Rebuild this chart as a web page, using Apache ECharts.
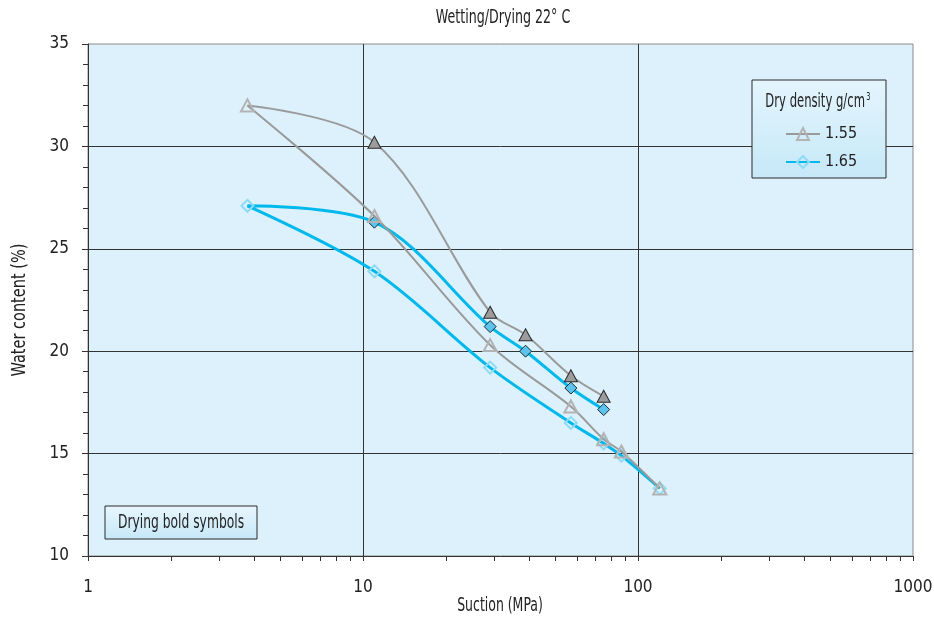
<!DOCTYPE html>
<html>
<head>
<meta charset="utf-8">
<script src="https://cdn.jsdelivr.net/npm/echarts@6/dist/echarts.min.js"></script>
<style>
  html, body { margin: 0; padding: 0; background: #ffffff; }
  #chart { width: 934px; height: 621px; }
</style>
</head>
<body>
<div id="chart"></div>
<script>
const FONT = "'DejaVu Sans Condensed', 'Liberation Sans', sans-serif";

const seriesNames = ['1.55', '1.65'];

// Dry density 1.55 g/cm3 — drying branch (bold symbols), high suction towards the loop turn
const drySuction155 = [75, 57, 39, 29, 11];
const dryWater155 = [17.8, 18.8, 20.8, 21.9, 30.2];
// Dry density 1.55 g/cm3 — wetting branch (open symbols), from the loop turn to high suction
const wetSuction155 = [3.8, 11, 29, 57, 75, 87, 120];
const wetWater155 = [32.0, 26.6, 20.3, 17.3, 15.7, 15.1, 13.3];

// Dry density 1.65 g/cm3
const drySuction165 = [75, 57, 39, 29, 11];
const dryWater165 = [17.15, 18.2, 20.0, 21.2, 26.3];
const wetSuction165 = [3.8, 11, 29, 57, 75, 87, 120];
const wetWater165 = [27.1, 23.9, 19.2, 16.5, 15.5, 14.9, 13.3];

// Intermediate decade ticks on the suction axis
const suctionMinorTicks = [2, 3, 4, 5, 6, 7, 8, 9, 20, 30, 40, 50, 60, 70, 80, 90, 200, 300, 400, 500, 600, 700, 800, 900];

const filledTriangle = { color: '#9c9c9c', borderColor: '#2a2a2a', borderWidth: 1 };
const filledDiamond = { color: '#5cc4ec', borderColor: '#1d2a30', borderWidth: 1 };

function loopData(drySx, dryW, wetSx, wetW, dryStyle) {
  const pts = [];
  drySx.forEach((s, i) => pts.push({ value: [s, dryW[i]], itemStyle: dryStyle }));
  wetSx.forEach((s, i) => pts.push({ value: [s, wetW[i]] }));
  return pts;
}

function gradient(top, bottom) {
  return new echarts.graphic.LinearGradient(0, 0, 0, 1, [
    { offset: 0, color: top },
    { offset: 1, color: bottom }
  ]);
}

// Narrow text label: a normal font squeezed horizontally
function narrowText(text, x, y, size, squeeze, extra) {
  return Object.assign({
    type: 'text',
    x: x, y: y,
    scaleX: squeeze,
    style: {
      text: text,
      fontFamily: FONT, fontSize: size, fill: '#222',
      align: 'center', verticalAlign: 'middle'
    },
    z: 40
  }, extra || {});
}

const chart = echarts.init(document.getElementById('chart'), null, { renderer: 'canvas' });

const option = {
  backgroundColor: '#ffffff',
  animation: false,
  textStyle: { fontFamily: FONT },
  grid: {
    left: 88, top: 44, width: 825, height: 512,
    outerBoundsMode: 'none',
    show: true,
    backgroundColor: '#dcf1fb',
    borderColor: '#8a8a8a',
    borderWidth: 1
  },
  xAxis: {
    type: 'log',
    logBase: 10,
    min: 1,
    max: 1000,
    axisLine: { show: true, onZero: false, lineStyle: { color: '#333', width: 1 } },
    axisTick: { show: true, length: 5, lineStyle: { color: '#333' } },
    axisLabel: {
      fontFamily: FONT, fontSize: 17, color: '#222', margin: 23,
      formatter: v => String(Math.round(v))
    },
    splitLine: { show: true, showMinLine: false, showMaxLine: false, lineStyle: { color: '#333', width: 1 } }
  },
  yAxis: {
    type: 'value',
    min: 10,
    max: 35,
    interval: 5,
    axisLine: { show: true, lineStyle: { color: '#333', width: 1 } },
    axisTick: { show: true, length: 6, lineStyle: { color: '#333' } },
    minorTick: { show: true, splitNumber: 5, length: 5, lineStyle: { color: '#333' } },
    axisLabel: { fontFamily: FONT, fontSize: 17, color: '#222', margin: 19 },
    splitLine: { show: true, showMinLine: false, showMaxLine: false, lineStyle: { color: '#333', width: 1 } }
  },
  legend: {
    data: seriesNames,
    orient: 'vertical',
    left: 780,
    top: 121,
    itemWidth: 34,
    itemHeight: 15,
    itemGap: 12,
    z: 30,
    textStyle: { fontFamily: FONT, fontSize: 16, color: '#222' }
  },
  series: [
    {
      type: 'custom',
      name: 'ticks',
      silent: true,
      clip: false,
      data: suctionMinorTicks.map(v => [v, 10]),
      renderItem: function (params, api) {
        const p = api.coord([api.value(0), api.value(1)]);
        const x = Math.round(p[0]) + 0.5;
        return {
          type: 'line',
          shape: { x1: x, y1: p[1], x2: x, y2: p[1] + 5 },
          style: { stroke: '#333', lineWidth: 1 }
        };
      },
      z: 1
    },
    {
      name: seriesNames[0],
      type: 'line',
      smooth: 0.33,
      symbol: 'triangle',
      symbolSize: [13, 12],
      showAllSymbol: true,
      lineStyle: { color: '#9a9a9a', width: 2 },
      itemStyle: { color: 'rgba(0,0,0,0)', borderColor: '#b3b3b3', borderWidth: 2 },
      data: loopData(drySuction155, dryWater155, wetSuction155, wetWater155, filledTriangle),
      z: 3
    },
    {
      name: seriesNames[1],
      type: 'line',
      smooth: 0.33,
      symbol: 'diamond',
      symbolSize: 12,
      showAllSymbol: true,
      lineStyle: { color: '#00b9ec', width: 3 },
      itemStyle: { color: 'rgba(0,0,0,0)', borderColor: '#8fdbf6', borderWidth: 2 },
      data: loopData(drySuction165, dryWater165, wetSuction165, wetWater165, filledDiamond),
      z: 2
    }
  ],
  graphic: [
    narrowText('Wetting/Drying 22° C', 503, 18, 19, 0.74),
    narrowText('Suction (MPa)', 500, 606, 19, 0.73),
    narrowText('Water content (%)', 20, 310, 19, 0.85, { rotation: Math.PI / 2 }),
    {
      type: 'rect',
      shape: { x: 752, y: 80, width: 134, height: 98 },
      style: { fill: gradient('#e4f5fd', '#c6e8f8'), stroke: '#2a2a2a', lineWidth: 1 },
      z: 5
    },
    narrowText('', 818, 102, 19, 0.68, {
      style: {
        text: '{a|Dry density g/cm}{s|3}',
        align: 'center', verticalAlign: 'middle',
        rich: {
          a: { fontFamily: FONT, fontSize: 19, fill: '#222' },
          s: { fontFamily: FONT, fontSize: 11, fill: '#222', verticalAlign: 'top', padding: [0, 0, 10, 2] }
        }
      }
    }),
    {
      type: 'rect',
      shape: { x: 105, y: 506, width: 152, height: 33 },
      style: { fill: gradient('#e8f6fd', '#c6e8f8'), stroke: '#2a2a2a', lineWidth: 1 },
      z: 5
    },
    narrowText('Drying bold symbols', 181, 523, 19, 0.72)
  ]
};

chart.setOption(option);
</script>
</body>
</html>
